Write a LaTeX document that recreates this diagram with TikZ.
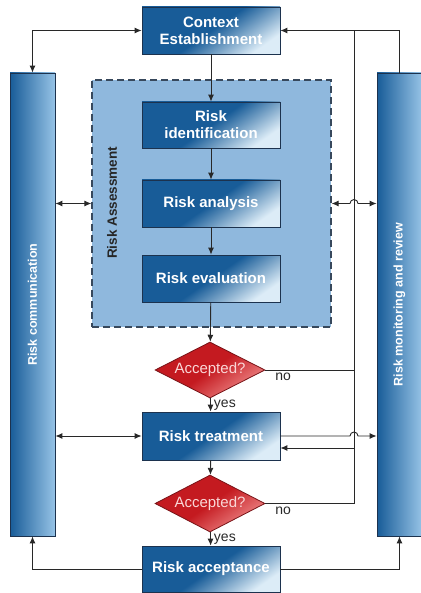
\documentclass[tikz,border=0pt]{standalone}
\usepackage{fontspec}
\setsansfont{Liberation Sans}
\usetikzlibrary{shapes.geometric,arrows.meta}
\definecolor{boxdark}{RGB}{24,92,152}
\definecolor{boxlight}{RGB}{220,236,247}
\definecolor{boxline}{RGB}{28,50,78}
\definecolor{barlight}{RGB}{150,195,230}
\definecolor{rafill}{RGB}{143,184,221}
\definecolor{raline}{RGB}{55,72,92}
\definecolor{accdark}{RGB}{196,26,32}
\definecolor{acclight}{RGB}{240,140,140}
\definecolor{accline}{RGB}{120,20,24}
\definecolor{acctext}{RGB}{250,215,215}
\definecolor{wire}{RGB}{40,40,40}

\begin{document}
\begin{tikzpicture}[x=1pt,y=1pt,font=\sffamily,color=wire,line width=0.9pt,
  >={Latex[length=7pt,width=6pt]},
  stepbox/.style={draw=boxline,line width=0.8pt,top color=boxdark,bottom color=boxlight,middle color=boxdark,shading angle=35,
    minimum width=138pt,minimum height=47pt,inner sep=0pt,text=white,align=center,
    font=\sffamily\bfseries\fontsize{15}{17}\selectfont},
  bar/.style={draw=boxline,line width=0.8pt,left color=boxdark,right color=barlight,minimum width=45pt,minimum height=463pt,inner sep=0pt},
  barlabel/.style={rotate=90,text=white,font=\sffamily\bfseries\fontsize{12.5}{14}\selectfont},
  ragroup/.style={draw=raline,line width=1.3pt,dash pattern=on 7pt off 4pt,fill=rafill,minimum width=239pt,minimum height=247pt,inner sep=0pt},
  accbox/.style={diamond,aspect=2,draw=accline,line width=0.8pt,top color=accdark,bottom color=acclight,middle color=accdark,shading angle=35,
    minimum width=110pt,minimum height=56pt,inner sep=0pt,text=acctext,font=\sffamily\fontsize{15}{17}\selectfont},
  note/.style={text=wire,font=\sffamily\fontsize{14}{16}\selectfont,inner sep=3pt}]
\useasboundingbox (0,0) rectangle (420,-593);

\node[ragroup] (ra) at (211.5,-203.5) {};
\node[rotate=90,text=black!85,font=\sffamily\bfseries\fontsize{13.5}{15}\selectfont] (ralab) at (112,-203) {Risk Assessment};

\node[bar,label={[barlabel]center:Risk communication}] (lbar) at (32.5,-304.5) {};
\node[bar,label={[barlabel]center:Risk monitoring and review}] (rbar) at (399.5,-304.5) {};

\node[stepbox] (ctx) at (211,-30.5) {Context\\Establishment};
\node[stepbox,minimum height=46pt] (rid) at (211,-125) {Risk\\identification};
\node[stepbox] (ran) at (211,-203.5) {Risk analysis};
\node[stepbox] (rev) at (211,-278.5) {Risk evaluation};
\node[accbox] (acc1) at (210,-370) {Accepted?};
\node[stepbox,minimum height=48pt] (rtr) at (211,-436) {Risk treatment};
\node[accbox,minimum height=57pt] (acc2) at (210,-503.5) {Accepted?};
\node[stepbox,minimum height=46pt] (rac) at (211,-569) {Risk acceptance};

\coordinate (jn) at (354,-30);
\coordinate (jt) at (354,-448);

\draw[->] (ctx) -- (rid);
\draw[->] (rid) -- (ran);
\draw[->] (ran) -- (rev);
\draw[->] (rev) -- (acc1);
\draw[->] (acc1) -- node[note,right]{yes} (rtr);
\draw[->] (rtr) -- (acc2);
\draw[->] (acc2) -- node[note,right]{yes} (rac);

\draw[<->] (lbar.north) |- (ctx.west);
\draw[->] (rbar.north) |- (ctx.east);
\draw (acc1.east) -| node[note,pos=0.1,below]{no} (jn);
\draw (acc2.east) -| node[note,pos=0.1,below]{no} (jn);
\draw[->] (jt) -- (jt -| rtr.east);

\draw[<->] (lbar.east |- ran) -- (ra.west |- ran);
\draw[<->] (ra.east |- ran) -- ([xshift=-4pt]jn |- ran) arc[start angle=180,end angle=0,radius=4] -- (rbar.west |- ran);
\draw[<->] (lbar.east |- rtr) -- (rtr.west);
\draw[->] (rtr.east) -- ([xshift=-4pt]jn |- rtr) arc[start angle=180,end angle=0,radius=4] -- (rbar.west |- rtr);

\draw[->] (rac.west) -| (lbar.south);
\draw[->] (rac.east) -| (rbar.south);
\end{tikzpicture}
\end{document}
